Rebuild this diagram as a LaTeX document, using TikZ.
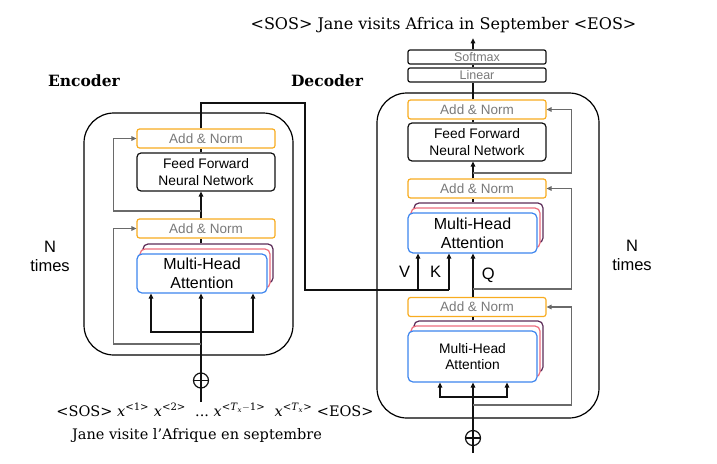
\documentclass[tikz,border=0pt]{standalone}
\usepackage{fontspec}
\setsansfont{Liberation Sans}
\setmainfont{DejaVu Serif}
\usepackage{tikz}
\usetikzlibrary{arrows.meta,positioning,calc}
\definecolor{corange}{HTML}{F8AC20}
\definecolor{cblue}{HTML}{3D85EE}
\definecolor{cpink}{HTML}{EE6E7E}
\definecolor{cpurple}{HTML}{5C2C58}
\definecolor{ink}{HTML}{111111}
\definecolor{ink2}{HTML}{7A7A7A}
\definecolor{cres}{HTML}{6A6A6A}
\tikzset{
  blk/.style={draw=ink, line width=1.2pt, rounded corners=4pt, fill=white, minimum width=138pt, align=center, inner sep=0pt},
  addnorm/.style={blk, draw=corange, rounded corners=2.5pt, minimum height=19pt, text=ink2, font=\sffamily\fontsize{13.5}{15}\selectfont},
  ffn/.style={blk, minimum height=38pt, font=\sffamily\fontsize{13.8}{17}\selectfont},
  thin/.style={blk, rounded corners=2pt, minimum height=14pt, text=ink2, font=\sffamily\fontsize{12.5}{14}\selectfont},
  wire/.style={line width=1.2pt, draw=ink},
  arr/.style={wire, -{Triangle[length=5pt,width=4.5pt]}},
  resid/.style={line width=1.2pt, draw=cres, -{Triangle[length=5pt,width=4.5pt]}},
  plus/.style={draw=ink, line width=1.2pt, circle, minimum size=15pt, inner sep=0pt},
  lbl/.style={font=\sffamily\fontsize{16.5}{19}\selectfont, align=center},
  serif/.style={font=\rmfamily\fontsize{#1}{19}\selectfont},
  title/.style={font=\rmfamily\bfseries\fontsize{15.5}{18}\selectfont},
}
\begin{document}
\begin{tikzpicture}[x=1pt,y=-1pt]
  \useasboundingbox (0,0) rectangle (717,463);
  % stacks
  \draw[line width=1.2pt, rounded corners=30pt] (84,113) rectangle (293,355);
  \draw[line width=1.2pt, rounded corners=30pt] (377,93) rectangle (599,418);
  \node[title] (encT) at (84,81) {Encoder};
  \node[title] (decT) at (327,81) {Decoder};
  \node[lbl] (encN) at (50,256) {N\\times};
  \node[lbl] (decN) at (632,255) {N\\times};
  % attention blocks, three heads deep
  \foreach \nm/\cx/\cy/\w/\h/\fs/\bs in {encMHA/202/273.5/130/39/16/19, decMHAb/472.5/233/129/40/16/19, decMHAa/472.5/356.5/129/51/13.8/16.5} {
    \node[blk, draw=cpurple, rounded corners=5pt, minimum width=\w pt, minimum height=\h pt] (\nm c) at (\cx+6,\cy-10) {};
    \node[blk, draw=cpink, rounded corners=5pt, minimum width=\w pt, minimum height=\h pt] (\nm b) at (\cx+3,\cy-5) {};
    \node[blk, draw=cblue, rounded corners=5pt, minimum width=\w pt, minimum height=\h pt, font=\sffamily\fontsize{\fs}{\bs}\selectfont] (\nm) at (\cx,\cy) {Multi-Head\\Attention};
  }
  % encoder
  \node[addnorm] (encAN1) at (206,228.5) {Add \& Norm};
  \node[ffn] (encFF) at (206,172) {Feed Forward\\Neural Network};
  \node[addnorm] (encAN2) at (206,138.5) {Add \& Norm};
  \node[plus] (encPlus) at (201,380.5) {};
  \draw[wire] (encPlus.north) -- (encPlus.south) (encPlus.west) -- (encPlus.east);
  \coordinate (encIn) at (201,402);
  \coordinate (encFork) at (201,332);
  \coordinate (encRes1) at (201,344);
  \coordinate (encRes2) at (201,211);
  \coordinate (encTop) at (201,103);
  \coordinate (bridge) at (305,103);
  \draw[wire] (encIn) -- (encPlus.south);
  \draw[arr] (encPlus.north) -- (encPlus.north |- encMHA.south);
  \draw[arr] (encFork) -| ([xshift=-51pt]encMHA.south);
  \draw[arr] (encFork) -| ([xshift=51pt]encMHA.south);
  \draw[resid] (encRes1) -| ([xshift=-23pt]encAN1.west) -- (encAN1.west);
  \draw[wire] (encPlus.north |- encMHAc.north) -- (encPlus.north |- encAN1.south);
  \draw[arr] (encPlus.north |- encAN1.north) -- (encPlus.north |- encFF.south);
  \draw[resid] (encRes2) -| ([xshift=-23pt]encAN2.west) -- (encAN2.west);
  \draw[wire] (encPlus.north |- encFF.north) -- (encPlus.north |- encAN2.south);
  % decoder
  \node[thin] (soft) at (477,57) {Softmax};
  \node[thin] (lin) at (477,75) {Linear};
  \node[addnorm] (decAN3) at (477,109.5) {Add \& Norm};
  \node[ffn] (decFF) at (477,142) {Feed Forward\\Neural Network};
  \node[addnorm] (decAN2) at (477,188.5) {Add \& Norm};
  \node[addnorm] (decAN1) at (477,307) {Add \& Norm};
  \node[plus] (decPlus) at (473,438) {};
  \draw[wire] (decPlus.north) -- (decPlus.south) (decPlus.west) -- (decPlus.east);
  \coordinate (decIn) at (473,453);
  \coordinate (decFork) at (473,397);
  \coordinate (decRes1) at (473,405);
  \coordinate (decRes2) at (473,289);
  \coordinate (decRes3) at (473,173);
  \coordinate (vIn) at (418,290);
  \coordinate (kIn) at (449,290);
  \draw[wire] (decIn) -- (decPlus.south);
  \draw[arr] (decPlus.north) -- (decPlus.north |- decMHAa.south);
  \draw[arr] (decFork) -| ([xshift=-33pt]decPlus.north |- decMHAa.south);
  \draw[arr] (decFork) -| ([xshift=34pt]decPlus.north |- decMHAa.south);
  \draw[resid] (decRes1) -| ([xshift=25pt]decAN1.east) -- (decAN1.east);
  \draw[wire] (decPlus.north |- decMHAac.north) -- (decPlus.north |- decAN1.south);
  \draw[arr] (decPlus.north |- decAN1.north) -- (decPlus.north |- decMHAb.south) node[lbl, pos=0.5, right=5pt] (qL) {Q};
  \draw[resid] (decRes2) -| ([xshift=25pt]decAN2.east) -- (decAN2.east);
  \draw[wire] (decPlus.north |- decMHAbc.north) -- (decPlus.north |- decAN2.south);
  \draw[arr] (decPlus.north |- decAN2.north) -- (decPlus.north |- decFF.south);
  \draw[resid] (decRes3) -| ([xshift=25pt]decAN3.east) -- (decAN3.east);
  \draw[wire] (decPlus.north |- decFF.north) -- (decPlus.north |- decAN3.south);
  \draw[wire] (decPlus.north |- decAN3.north) -- (decPlus.north |- lin.south);
  \draw[wire] (decPlus.north |- lin.north) -- (decPlus.north |- soft.south);
  \node[serif=16] (outTxt) at (443.5,25) {\textless SOS\textgreater\ Jane visits Africa in September \textless EOS\textgreater};
  \draw[arr] (decPlus.north |- soft.north) -- ([yshift=-2pt]decPlus.north |- outTxt.south);
  % encoder output into V and K
  \draw[wire] (encPlus.north |- encAN2.north) -- (encTop) -- (bridge) |- (kIn);
  \draw[arr] (vIn) -- (vIn |- decMHAb.south) node[lbl, pos=0.5, left=4pt] (vL) {V};
  \draw[arr] (kIn) -- (kIn |- decMHAb.south) node[lbl, pos=0.5, left=4pt] (kL) {K};
  % inputs
  \node[serif=14.5, anchor=base] (inTxt) at (215,416) {\textless SOS\textgreater\ \textit{x}\textsuperscript{\textless1\textgreater}\ \textit{x}\textsuperscript{\textless2\textgreater}\ \ ...\ \textit{x}\textsuperscript{\textless\textit{T}\textsubscript{\textit{x}}$-$1\textgreater}\ \ \textit{x}\textsuperscript{\textless\textit{T}\textsubscript{\textit{x}}\textgreater}\ \textless EOS\textgreater};
  \node[serif=14.5, anchor=base] (frTxt) at (197,439) {Jane visite l'Afrique en septembre};
\end{tikzpicture}
\end{document}
